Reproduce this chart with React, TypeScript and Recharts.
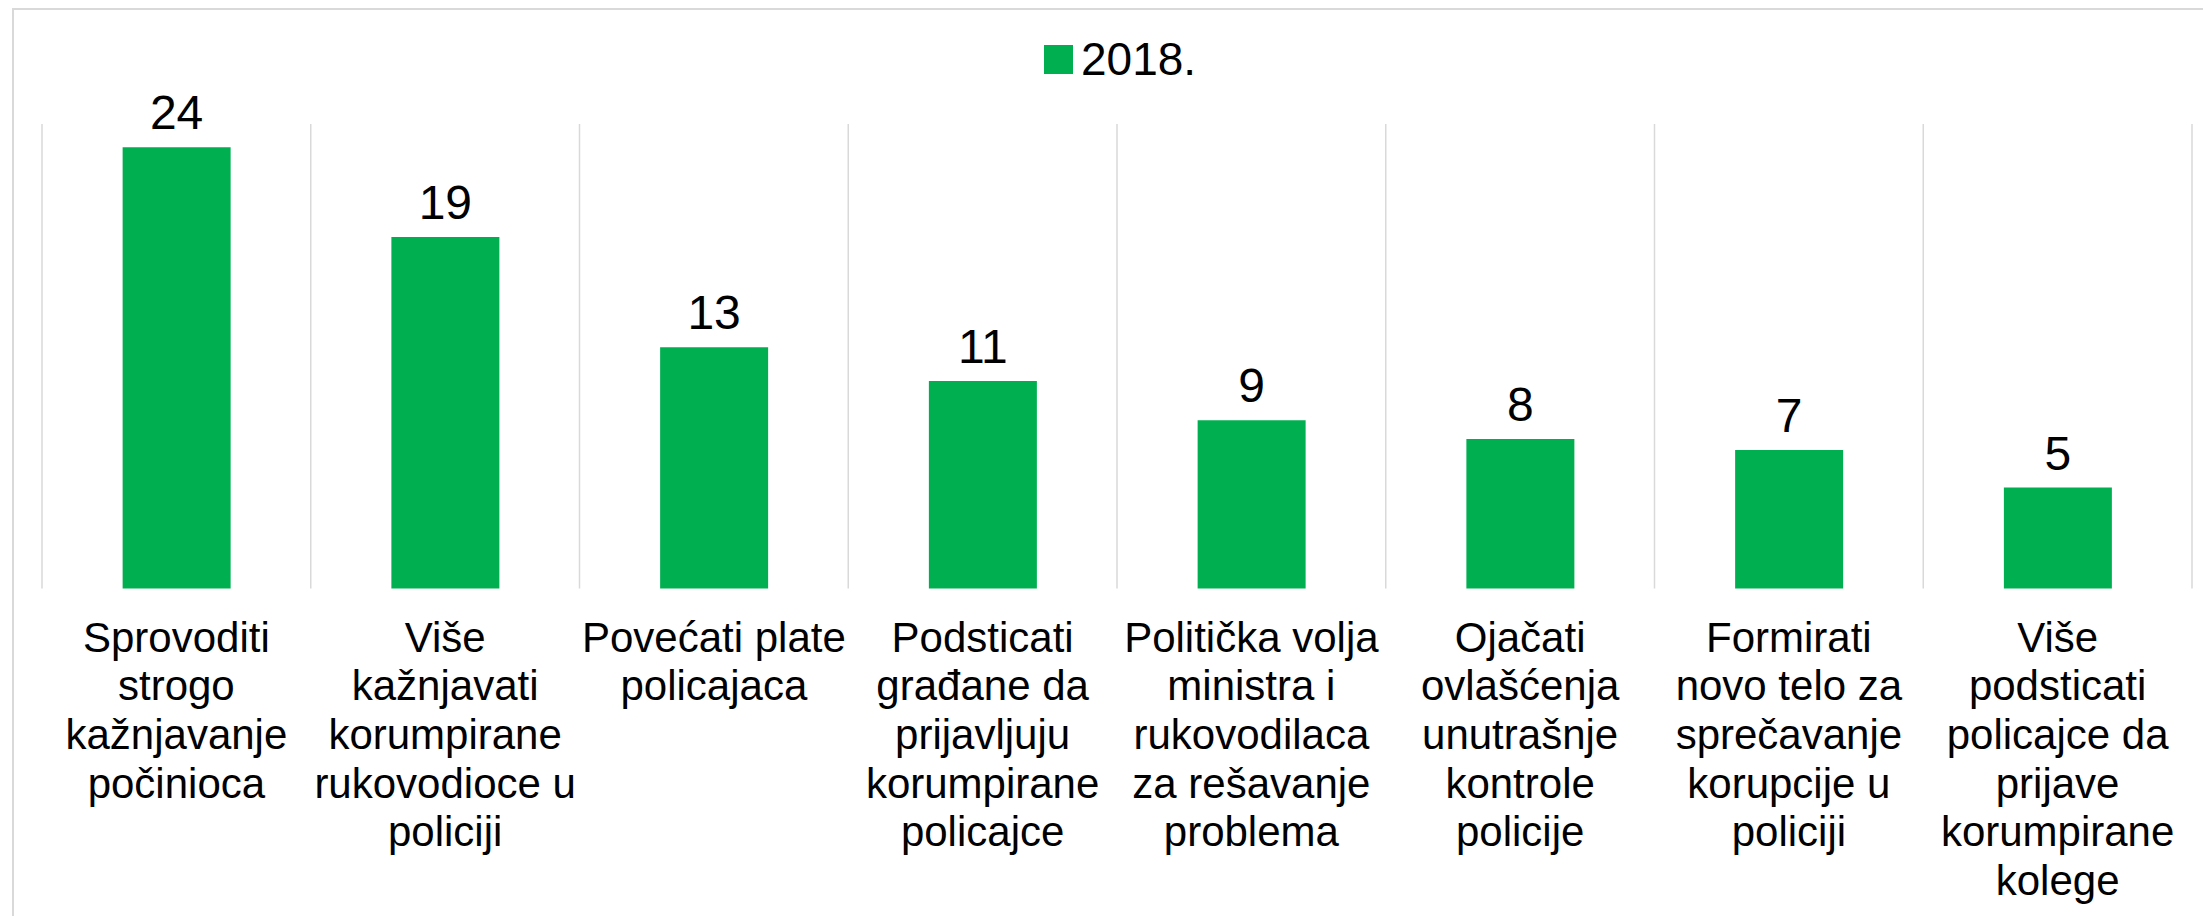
import React from "react";
import { BarChart, Bar, XAxis, YAxis, CartesianGrid, Legend, LabelList } from "recharts";

const categories: string[] = [
  "Sprovoditi\nstrogo\nkažnjavanje\npočinioca",
  "Više\nkažnjavati\nkorumpirane\nrukovodioce u\npoliciji",
  "Povećati plate\npolicajaca",
  "Podsticati\ngrađane da\nprijavljuju\nkorumpirane\npolicajce",
  "Politička volja\nministra i\nrukovodilaca\nza rešavanje\nproblema",
  "Ojačati\novlašćenja\nunutrašnje\nkontrole\npolicije",
  "Formirati\nnovo telo za\nsprečavanje\nkorupcije u\npoliciji",
  "Više\npodsticati\npolicajce da\nprijave\nkorumpirane\nkolege",
];

const values2018: number[] = [23.6, 18.8, 12.9, 11.1, 9.0, 8.0, 7.4, 5.4];

const seriesName = "2018.";
const yDomain: [number, number] = [0, 24.84];

const data = categories.map((c, i) => ({ category: c, value: values2018[i] }));

const FONT = "'Liberation Sans', Arial, sans-serif";
const GREEN = "#00B050";

const CategoryTick = (props: any) => {
  const { x, y, payload } = props;
  const lines = String(payload.value).split("\n");
  return (
    <text x={x} y={y} textAnchor="middle" fill="#000" fontSize={42} fontFamily={FONT}>
      {lines.map((ln, i) => (
        <tspan key={i} x={x} dy={i === 0 ? 63 : 48.7}>
          {ln}
        </tspan>
      ))}
    </text>
  );
};

const LegendContent = () => (
  <div style={{ display: "flex", alignItems: "center", fontFamily: FONT, fontSize: 46, lineHeight: "46px", color: "#000" }}>
    <span style={{ display: "inline-block", width: 29, height: 29, background: GREEN, marginRight: 8 }} />
    <span>{seriesName}</span>
  </div>
);

export default function App() {
  return (
    <div style={{ position: "fixed", left: 0, top: 0, width: 2203, height: 916, overflow: "hidden", background: "#fff" }}>
      <div
        style={{
          position: "absolute",
          left: 12,
          top: 8,
          width: 2400,
          height: 1200,
          borderTop: "2px solid #d9d9d9",
          borderLeft: "2px solid #d9d9d9",
        }}
      />
      <div style={{ position: "absolute", left: 0, top: 0 }}>
        <BarChart
          width={2203}
          height={916}
          data={data}
          margin={{ top: 124, right: 11, left: 42, bottom: 27.5 }}
          barCategoryGap="30%"
        >
          <CartesianGrid
            horizontal={false}
            vertical={true}
            stroke="#d9d9d9"
            strokeWidth={1.5}
            verticalCoordinatesGenerator={({ offset }: any) =>
              Array.from({ length: categories.length + 1 }, (_, i) => offset.left + (i * offset.width) / categories.length)
            }
          />
          <XAxis
            dataKey="category"
            height={300}
            axisLine={false}
            tickLine={false}
            tickSize={0}
            tickMargin={0}
            interval={0}
            tick={<CategoryTick />}
          />
          <YAxis hide domain={yDomain} />
          <Legend
            layout="vertical"
            verticalAlign="middle"
            align="center"
            content={<LegendContent />}
            wrapperStyle={{ top: 36, left: 1044, width: 220, height: 46 }}
          />
          <Bar dataKey="value" name={seriesName} fill={GREEN} isAnimationActive={false}>
            <LabelList
              dataKey="value"
              position="top"
              offset={18}
              fill="#000"
              fontSize={48}
              fontFamily={FONT}
              formatter={(v: any) => Math.round(Number(v))}
            />
          </Bar>
        </BarChart>
      </div>
    </div>
  );
}
